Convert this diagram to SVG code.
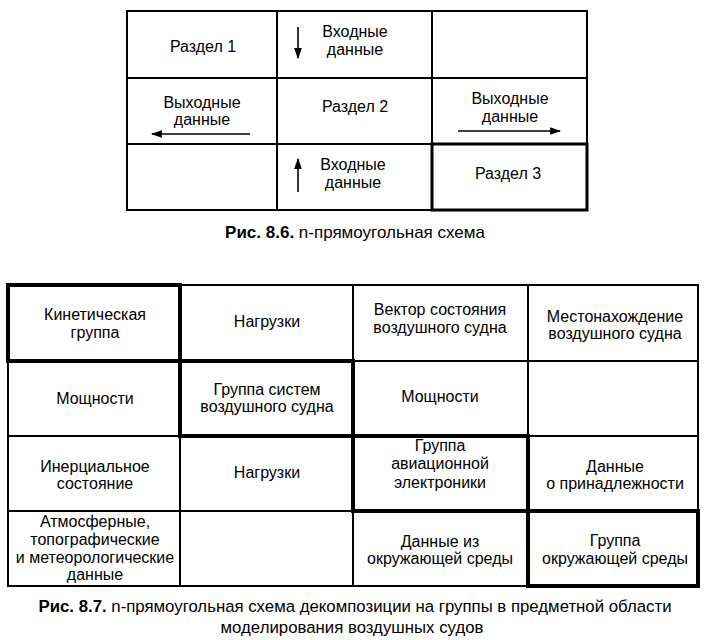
<svg xmlns="http://www.w3.org/2000/svg" width="713" height="640" viewBox="0 0 713 640">
<style>
.c{fill:#fff;stroke:#000;stroke-width:2}
.k{fill:none;stroke:#000;stroke-width:4}
.k3{fill:none;stroke:#000;stroke-width:3}
text{font-family:"Liberation Sans",Arial,sans-serif;font-size:16px;fill:#000;text-anchor:middle}
.cap1{font-size:17px}
.cap2{font-size:16.8px}
.b{font-weight:bold}
.a{stroke:#000;stroke-width:1.6;fill:none}
</style>
<defs>
<marker id="ah" viewBox="0 0 10 10" refX="9" refY="5" markerWidth="11" markerHeight="11" markerUnits="userSpaceOnUse" orient="auto">
<path d="M0,1.5 L10,5 L0,8.5 Z" fill="#000"/>
</marker>
</defs>
<rect width="713" height="640" fill="#fff"/>

<!-- Figure 8.6 -->
<g id="r1"><rect class="c" x="127" y="11" width="150" height="67"/><text x="203" y="52">Раздел 1</text></g>
<g id="in-top"><rect class="c" x="277" y="11" width="155" height="67"/><text x="355" y="37">Входные</text><text x="355" y="55">данные</text></g>
<g id="e13"><rect class="c" x="432" y="11" width="155" height="67"/></g>
<g id="out-left"><rect class="c" x="127" y="78" width="150" height="66"/><text x="202" y="108">Выходные</text><text x="202" y="125">данные</text></g>
<g id="r2"><rect class="c" x="277" y="78" width="155" height="66"/><text x="355" y="112">Раздел 2</text></g>
<g id="out-right"><rect class="c" x="432" y="78" width="155" height="66"/><text x="510" y="104">Выходные</text><text x="510" y="122">данные</text></g>
<g id="e31"><rect class="c" x="127" y="144" width="150" height="66"/></g>
<g id="in-bottom"><rect class="c" x="277" y="144" width="155" height="66"/><text x="353" y="170">Входные</text><text x="353" y="188">данные</text></g>
<g id="r3"><rect class="k3" x="432" y="144" width="155" height="66"/><text x="508" y="179">Раздел 3</text></g>

<g id="connectors">
<line class="a" x1="298" y1="27" x2="298" y2="58" marker-end="url(#ah)"/>
<line class="a" x1="250" y1="134" x2="152" y2="134" marker-end="url(#ah)"/>
<line class="a" x1="458" y1="131" x2="560" y2="131" marker-end="url(#ah)"/>
<line class="a" x1="298" y1="192" x2="298" y2="159" marker-end="url(#ah)"/>
</g>

<text class="cap1" x="355" y="238"><tspan class="b">Рис. 8.6.</tspan> n-прямоугольная схема</text>

<!-- Figure 8.7 -->
<g id="n00"><rect class="c" x="8" y="285" width="172" height="76"/><text x="95" y="320">Кинетическая</text><text x="95" y="338">группа</text></g>
<g id="n01"><rect class="c" x="180" y="285" width="173" height="76"/><text x="267" y="327">Нагрузки</text></g>
<g id="n02"><rect class="c" x="353" y="285" width="175" height="76"/><text x="440" y="315">Вектор состояния</text><text x="440" y="333">воздушного судна</text></g>
<g id="n03"><rect class="c" x="528" y="285" width="170" height="76"/><text x="615" y="322">Местонахождение</text><text x="615" y="339">воздушного судна</text></g>

<g id="n10"><rect class="c" x="8" y="361" width="172" height="75"/><text x="95" y="404">Мощности</text></g>
<g id="n11"><rect class="c" x="180" y="361" width="173" height="75"/><text x="267" y="395">Группа систем</text><text x="267" y="412">воздушного судна</text></g>
<g id="n12"><rect class="c" x="353" y="361" width="175" height="75"/><text x="440" y="402">Мощности</text></g>
<g id="n13"><rect class="c" x="528" y="361" width="170" height="75"/></g>

<g id="n20"><rect class="c" x="8" y="436" width="172" height="75"/><text x="95" y="472">Инерциальное</text><text x="95" y="489">состояние</text></g>
<g id="n21"><rect class="c" x="180" y="436" width="173" height="75"/><text x="267" y="478">Нагрузки</text></g>
<g id="n22"><rect class="c" x="353" y="436" width="175" height="75"/><text x="440" y="451">Группа</text><text x="440" y="469">авиационной</text><text x="440" y="488">электроники</text></g>
<g id="n23"><rect class="c" x="528" y="436" width="170" height="75"/><text x="615" y="472">Данные</text><text x="615" y="489">о принадлежности</text></g>

<g id="n30"><rect class="c" x="8" y="511" width="172" height="75"/><text x="95" y="527">Атмосферные,</text><text x="95" y="545">топографические</text><text x="95" y="563">и метеорологические</text><text x="95" y="580">данные</text></g>
<g id="n31"><rect class="c" x="180" y="511" width="173" height="75"/></g>
<g id="n32"><rect class="c" x="353" y="511" width="175" height="75"/><text x="440" y="547">Данные из</text><text x="440" y="564">окружающей среды</text></g>
<g id="n33"><rect class="c" x="528" y="511" width="170" height="75"/><text x="615" y="546">Группа</text><text x="615" y="564">окружающей среды</text></g>

<g id="groups">
<rect class="k" x="8" y="285" width="172" height="76"/>
<rect class="k" x="180" y="361" width="173" height="75"/>
<rect class="k" x="353" y="436" width="175" height="75"/>
<rect class="k" x="528" y="511" width="170" height="75"/>
</g>

<text class="cap2" x="355" y="612"><tspan class="b">Рис. 8.7.</tspan> n-прямоугольная схема декомпозиции на группы в предметной области</text>
<text class="cap2" x="352" y="633">моделирования воздушных судов</text>
</svg>
